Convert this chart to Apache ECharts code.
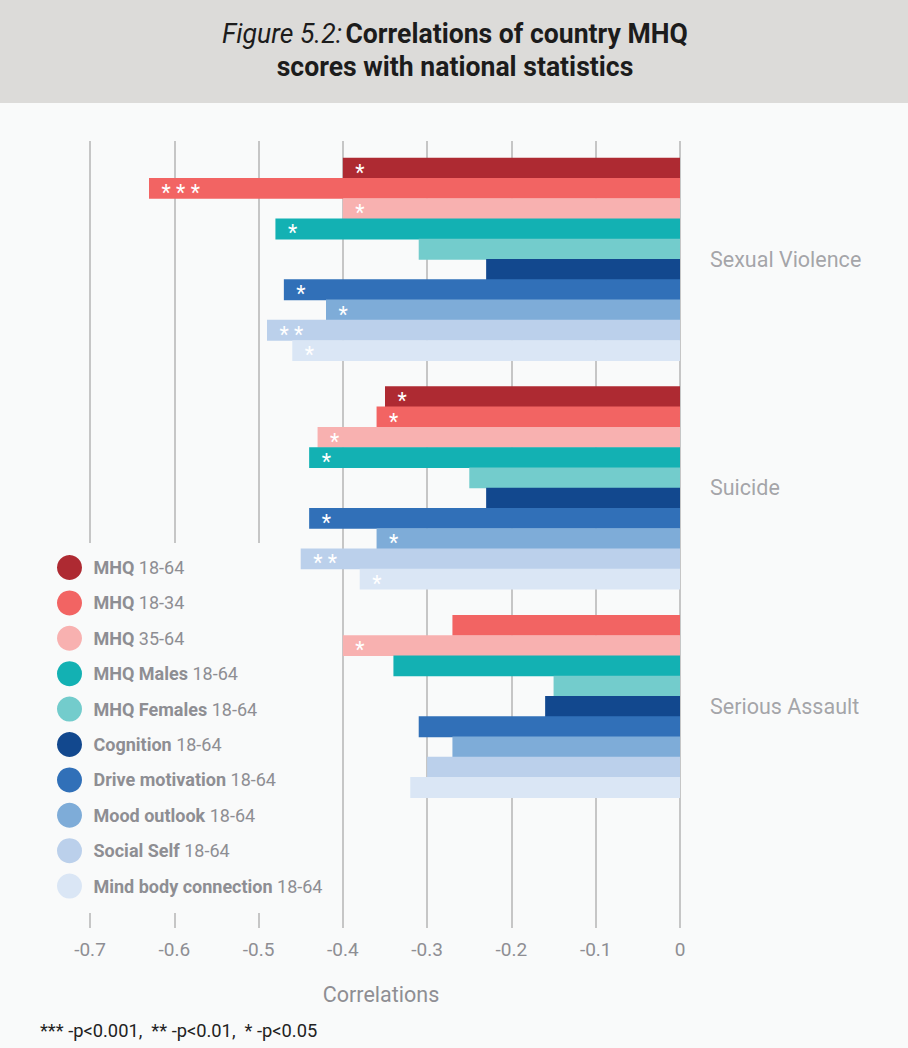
<!DOCTYPE html>
<html><head><meta charset="utf-8">
<script src="https://cdn.jsdelivr.net/npm/echarts@6/dist/echarts.min.js"></script>
<style>html,body{margin:0;padding:0;background:#f9fafa;}#chart{width:908px;height:1048px;}</style>
</head><body><div id="chart"></div>
<script>
// ---- data ----
const categories = ['Sexual Violence', 'Suicide', 'Serious Assault'];
const seriesNames = ['MHQ 18-64', 'MHQ 18-34', 'MHQ 35-64', 'MHQ Males 18-64', 'MHQ Females 18-64',
  'Cognition 18-64', 'Drive motivation 18-64', 'Mood outlook 18-64', 'Social Self 18-64', 'Mind body connection 18-64'];
const mhq1864    = [-0.40, -0.35, null];
const mhq1834    = [-0.63, -0.36, -0.27];
const mhq3564    = [-0.40, -0.43, -0.40];
const mhqMales   = [-0.48, -0.44, -0.34];
const mhqFemales = [-0.31, -0.25, -0.15];
const cognition  = [-0.23, -0.23, -0.16];
const drive      = [-0.47, -0.44, -0.31];
const mood       = [-0.42, -0.36, -0.27];
const socialSelf = [-0.49, -0.45, -0.30];
const mindBody   = [-0.46, -0.38, -0.32];
// significance marks (*** p<0.001, ** p<0.01, * p<0.05)
const sig1864    = ['*', '*', ''];
const sig1834    = ['* * *', '*', ''];
const sig3564    = ['*', '*', '*'];
const sigMales   = ['*', '*', ''];
const sigFemales = ['', '', ''];
const sigCog     = ['', '', ''];
const sigDrive   = ['*', '*', ''];
const sigMood    = ['*', '*', ''];
const sigSocial  = ['* *', '* *', ''];
const sigMind    = ['*', '*', ''];
const xTickLabels = ['-0.7', '-0.6', '-0.5', '-0.4', '-0.3', '-0.2', '-0.1', '0'];

// ---- styles ----
const colors = ['#ae2a32', '#f26463', '#f8b1b0', '#13b1b3', '#73cccc', '#12488e', '#3170b8', '#7eacd8', '#bbd0eb', '#dae6f5'];
const grey = '#8e8e93';
const FONT = 'Roboto, "Noto Sans", sans-serif';
const GROUP_SPAN = 11.28; // rows per category band (10 bar rows + gap)

const allValues = [mhq1864, mhq1834, mhq3564, mhqMales, mhqFemales, cognition, drive, mood, socialSelf, mindBody];
const allSig = [sig1864, sig1834, sig3564, sigMales, sigFemales, sigCog, sigDrive, sigMood, sigSocial, sigMind];

// row positions: bars of a category are packed in series order, missing ones skipped
const items = allValues.map(() => []);
const centers = [];
categories.forEach((c, ci) => {
  let k = 0;
  allValues.forEach((vals, si) => {
    if (vals[ci] != null) {
      items[si].push({ value: [vals[ci], ci * GROUP_SPAN + k], stars: allSig[si][ci] });
      k++;
    }
  });
  centers.push([0, ci * GROUP_SPAN + (k - 1) / 2]);
});

function makeRender(si) {
  return function (params, api) {
    const v = api.value(0), pos = api.value(1);
    const tip = api.coord([v, pos]);
    const base = api.coord([0, pos]);
    const h = Math.abs(api.size([0, 1])[1]);
    const stars = items[si][params.dataIndex].stars;
    const el = {
      type: 'rect',
      shape: { x: tip[0], y: tip[1] - h / 2 - 0.3, width: base[0] - tip[0], height: h + 0.6 },
      style: { fill: colors[si] }
    };
    if (stars) {
      el.textContent = { style: { text: stars, fill: '#ffffff', fontSize: 21.5, fontFamily: FONT } };
      el.textConfig = { position: 'insideLeft', distance: 12.5, offset: [0, 4] };
    }
    return el;
  };
}

const series = seriesNames.map((name, si) => ({
  name: name,
  type: 'custom',
  renderItem: makeRender(si),
  itemStyle: { color: colors[si] },
  encode: { x: 0, y: 1 },
  z: 3,
  data: items[si].map(d => d.value)
}));
series.push({
  name: 'groups',
  type: 'scatter',
  symbolSize: 0,
  silent: true,
  data: centers,
  label: {
    show: true, position: 'right', distance: 30,
    formatter: p => categories[p.dataIndex],
    color: grey, fontSize: 21.5, fontFamily: FONT
  }
});

const chart = echarts.init(document.getElementById('chart'), null, { renderer: 'svg' });
chart.setOption({
  backgroundColor: '#f9fafa',
  animation: false,
  grid: { left: 90, right: 228, top: 141, bottom: 120, containLabel: false, outerBoundsMode: 'none' },
  xAxis: {
    type: 'value', min: -0.7, max: 0, interval: 0.1,
    axisLine: { show: false }, axisTick: { show: false },
    splitLine: { show: true, lineStyle: { color: '#b4b4b4', width: 1.5 } },
    axisLabel: {
      margin: 12, color: grey, fontSize: 19, fontFamily: FONT,
      formatter: v => xTickLabels[Math.round((v + 0.7) * 10)]
    },
    name: 'Correlations', nameLocation: 'middle', nameGap: 55,
    nameTextStyle: { color: grey, fontSize: 21.5, fontFamily: FONT, padding: [0, 8, 0, 0] }
  },
  yAxis: {
    type: 'value', inverse: true, min: -1.34, max: 37.49,
    show: false, splitLine: { show: false }
  },
  legend: {
    data: seriesNames,
    orient: 'vertical', left: 47, top: 543,
    padding: [12, 14, 13, 10],
    icon: 'circle', itemWidth: 38, itemHeight: 25, itemGap: 10.4,
    selectedMode: false,
    formatter: function (name) {
      const i = name.lastIndexOf(' ');
      return '{b|' + name.slice(0, i) + '} {r|' + name.slice(i + 1) + '}';
    },
    textStyle: {
      color: grey, fontSize: 18, fontFamily: FONT,
      rich: {
        b: { color: grey, fontSize: 18, fontWeight: 'bold', fontFamily: FONT },
        r: { color: grey, fontSize: 18, fontFamily: FONT }
      }
    }
  },
  graphic: [
    { type: 'rect', left: 0, top: 0, z: -1, shape: { width: 908, height: 103 }, style: { fill: '#dcdbd9' } },
    // legend backdrop hiding the left grid lines
    { type: 'rect', x: 40, y: 543, z: 1, shape: { width: 250, height: 370 }, style: { fill: '#f9fafa' } },
    {
      type: 'text', x: 455, y: 50, scaleX: 0.985,
      style: {
        text: '{i|Figure 5.2:} {b|Correlations of country MHQ}\n{b|scores with national statistics}',
        textAlign: 'center', textVerticalAlign: 'middle', fill: '#1c1c1c',
        rich: {
          i: { fontSize: 27, fontStyle: 'italic', fontFamily: FONT, fill: '#1c1c1c', lineHeight: 33 },
          b: { fontSize: 27, fontWeight: 'bold', fontFamily: FONT, fill: '#1c1c1c', lineHeight: 33 }
        }
      }
    },
    {
      type: 'text', x: 40, y: 1030,
      style: {
        text: '*** -p<0.001,  ** -p<0.01,  * -p<0.05',
        fontSize: 18.3, fontFamily: FONT, fill: '#222222', textVerticalAlign: 'middle'
      }
    }
  ],
  series: series
});
</script></body></html>
